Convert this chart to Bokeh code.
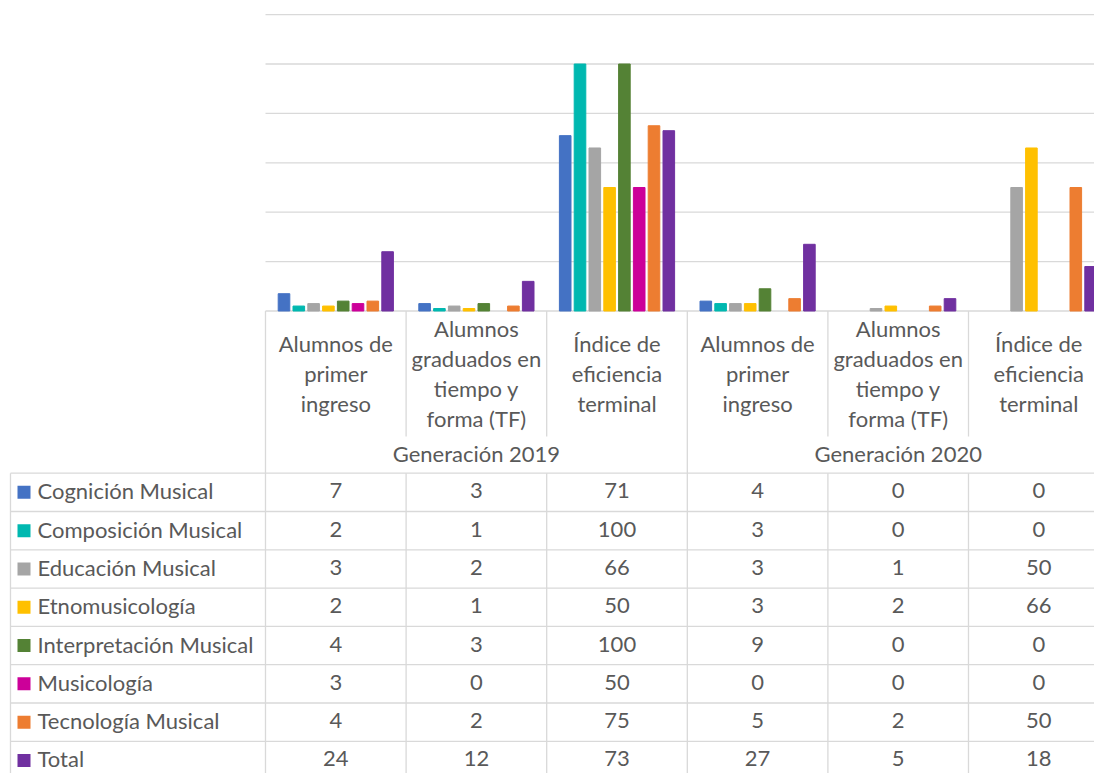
from bokeh.plotting import figure
from bokeh.models import Range1d, ColumnDataSource
from bokeh.core.properties import value
from bokeh.embed import file_html
from bokeh.resources import INLINE

# ---------------- data ----------------
generations = ["Generación 2019", "Generación 2020"]
metrics = ["Alumnos de\nprimer\ningreso",
           "Alumnos\ngraduados en\ntiempo y\nforma (TF)",
           "Índice de\neficiencia\nterminal"]
series = ["Cognición Musical", "Composición Musical", "Educación Musical",
          "Etnomusicología", "Interpretación Musical", "Musicología",
          "Tecnología Musical", "Total"]
colors = ["#4472C4", "#00B8B0", "#A5A5A5", "#FFC000", "#548235",
          "#CC0099", "#ED7D31", "#7030A0"]
cognicion = [7, 3, 71, 4, 0, 0]
composicion = [2, 1, 100, 3, 0, 0]
educacion = [3, 2, 66, 3, 1, 50]
etnomusicologia = [2, 1, 50, 3, 2, 66]
interpretacion = [4, 3, 100, 9, 0, 0]
musicologia = [3, 0, 50, 0, 0, 0]
tecnologia = [4, 2, 75, 5, 2, 50]
total = [24, 12, 73, 27, 5, 18]
values = [cognicion, composicion, educacion, etnomusicologia,
          interpretacion, musicologia, tecnologia, total]
grid_ticks = [0, 20, 40, 60, 80, 100, 120]

# ---------------- layout (pixels of the reference) ----------------
W, H = 1094, 773
OFF_X, OFF_Y = 0, 0
PLOT_LEFT = 265.0
COL_W = 140.6
BASE_Y = 310.5
PX_PER_UNIT = 2.47
TABLE_TOP = 472.7
ROW_H = 38.3
SUB_LINE_END = 436.0
TABLE_LEFT = 10.0
SWATCH_X = 23.5
LABEL_X = 37.0
TEXT_DY = -1.5
FONT = value("Lato")
FS = "22px"
TXT = "#595959"
LINE = "#D9D9D9"

def u(px):
    return (px - PLOT_LEFT) / COL_W

x0 = u(OFF_X)
x1 = u(OFF_X + W)
y_top = (BASE_Y - OFF_Y) / PX_PER_UNIT
y_bot = (BASE_Y - (OFF_Y + H)) / PX_PER_UNIT

p = figure(width=W, height=H, x_range=Range1d(x0, x1), y_range=Range1d(y_bot, y_top),
           output_backend="svg", toolbar_location=None, min_border=0,
           x_axis_location=None, y_axis_location=None)
p.outline_line_color = None
p.grid.visible = False
p.background_fill_color = "white"
p.extra_y_ranges = {"tbl": Range1d(start=OFF_Y + H, end=OFF_Y)}

n_cat = len(cognicion)
n_ser = len(series)

# gridlines (value space), from plot area to right edge
p.segment(x0=[0] * len(grid_ticks), x1=[x1] * len(grid_ticks),
          y0=grid_ticks, y1=grid_ticks, line_color=LINE, line_width=1.3)

# bars (zero values are not drawn)
step = 14.8 / COL_W
bw = 11.6 / COL_W
bx, btop, bcol = [], [], []
for j, vals in enumerate(values):
    for i, v in enumerate(vals):
        if v == 0:
            continue
        bx.append(i + 0.5 + (j - (n_ser - 1) / 2) * step)
        btop.append(v)
        bcol.append(colors[j])
p.vbar(x="x", top="top", bottom=0, width=bw, color="c",
       source=ColumnDataSource(dict(x=bx, top=btop, c=bcol)))

# ---- table lines ----
n_rows = len(series)
row_lines = [TABLE_TOP + ROW_H * k for k in range(n_rows + 1)]
p.segment(x0=[u(TABLE_LEFT)] * len(row_lines), x1=[x1] * len(row_lines),
          y0=row_lines, y1=row_lines, line_color=LINE, line_width=1.3,
          y_range_name="tbl")
bottom_y = OFF_Y + H + 10
vx0, vy0, vy1 = [], [], []
vx0.append(u(TABLE_LEFT)); vy0.append(TABLE_TOP); vy1.append(bottom_y)
for i in range(n_cat + 1):
    if i % 3 == 0:
        vx0.append(i); vy0.append(BASE_Y); vy1.append(bottom_y)
    else:
        vx0.append(i); vy0.append(BASE_Y); vy1.append(SUB_LINE_END)
        vx0.append(i); vy0.append(TABLE_TOP); vy1.append(bottom_y)
p.segment(x0=vx0, x1=vx0, y0=vy0, y1=vy1, line_color=LINE, line_width=1.3,
          y_range_name="tbl")

# ---- category labels ----
cat_x = [i + 0.5 for i in range(n_cat)]
cat_txt = [metrics[i % 3] for i in range(n_cat)]
p.text(x=cat_x, y=[373] * n_cat, text=cat_txt, text_font=FONT,
       text_font_size=FS, text_color=TXT, text_align="center",
       text_baseline="middle", text_line_height=1.1, y_range_name="tbl")
p.text(x=[1.5, 4.5], y=[452.5, 452.5], text=generations, text_font=FONT,
       text_font_size=FS, text_color=TXT, text_align="center",
       text_baseline="middle", y_range_name="tbl")

# ---- legend column ----
row_c = [TABLE_TOP + ROW_H * (k + 0.5) for k in range(n_rows)]
row_t = [c + TEXT_DY for c in row_c]
p.scatter(x=[u(SWATCH_X)] * n_rows, y=row_c, marker="square", size=13,
          color=colors, line_color=None, y_range_name="tbl")
p.text(x=[u(LABEL_X)] * n_rows, y=row_t, text=series, text_font=FONT,
       text_font_size=FS, text_color=TXT, text_align="left",
       text_baseline="middle", y_range_name="tbl")

# ---- values ----
tx, ty, tt = [], [], []
for k, vals in enumerate(values):
    for i, v in enumerate(vals):
        tx.append(i + 0.5)
        ty.append(row_t[k])
        tt.append(str(v))
p.text(x=tx, y=ty, text=tt, text_font=FONT, text_font_size=FS,
       text_color=TXT, text_align="center", text_baseline="middle",
       y_range_name="tbl")

open("out.html", "w").write(file_html(p, INLINE))
